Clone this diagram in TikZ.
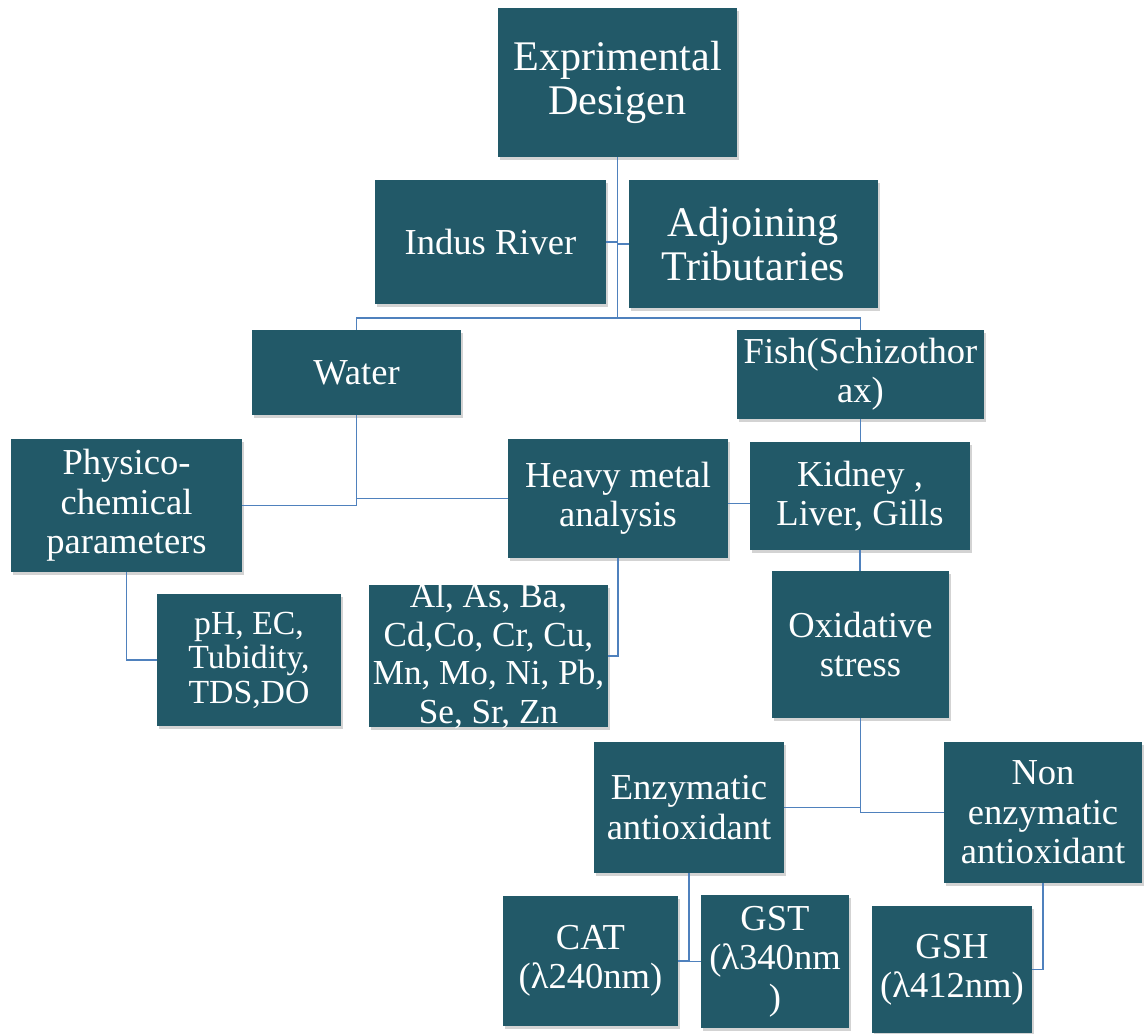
\documentclass[tikz,border=0pt]{standalone}
\usepackage{fontspec}
\setmainfont{Liberation Serif}
\usetikzlibrary{shadows,calc}
\definecolor{cajaazul}{RGB}{34,89,104}
\definecolor{lineaazul}{RGB}{79,129,189}
\newcommand\letragrande{\fontsize{30}{31.5}\selectfont}
\newcommand\letranormal{\fontsize{26}{28}\selectfont}
\begin{document}
\begin{tikzpicture}[x=0.025cm,y=-0.025cm,
  caja/.style={fill=cajaazul,text=white,align=center,inner sep=0pt,font=\letranormal,
    drop shadow={shadow xshift=1.5pt,shadow yshift=-2pt,opacity=.35}},
  tam/.style 2 args={minimum width=#1*0.025cm,minimum height=#2*0.025cm},
  conector/.style={draw=lineaazul,line width=1pt}]
\useasboundingbox (0,0) rectangle (1144,1033);
% cajas
\node[caja,tam={239}{149},font=\letragrande] (diseno) at (617.5,82.5) {Exprimental\\Desigen};
\node[caja,tam={231}{124}] (indo) at (490.5,242) {Indus River};
\node[caja,tam={249}{128},font=\letragrande] (afluentes) at (753.5,244) {Adjoining\\Tributaries};
\node[caja,tam={209}{85}] (agua) at (356.5,372.5) {Water};
\node[caja,tam={247}{89}] (pez) at (860.5,374.5) {Fish(Schizothor\\ax)};
\node[caja,tam={231}{133}] (fisico) at (126.5,505.5) {Physico-\\chemical\\parameters};
\node[caja,tam={220}{119}] (metales) at (618,498.5) {Heavy metal\\analysis};
\node[caja,tam={220}{108}] (rinon) at (860,496) {Kidney ,\\Liver, Gills};
\node[caja,tam={184}{132},font=\fontsize{24}{24.5}\selectfont] (parametros) at (249,660) {pH, EC,\\Tubidity,\\TDS,DO};
\node[caja,tam={239}{142}] (elementos) at (488.5,656) {};
\node[text=white,align=center,inner sep=0pt,font=\fontsize{25}{27.5}\selectfont] (elementostxt) at (elementos) {Al, As, Ba,\\Cd,Co, Cr, Cu,\\Mn, Mo, Ni, Pb,\\Se, Sr, Zn}; % se sale de la caja
\node[caja,tam={177}{147}] (estres) at (860.5,644.5) {Oxidative\\stress};
\node[caja,tam={190}{131}] (enzimatico) at (689,807.5) {Enzymatic\\antioxidant};
\node[caja,tam={198}{141}] (noenzimatico) at (1043,812.5) {Non\\enzymatic\\antioxidant};
\node[caja,tam={175}{130}] (cat) at (590.5,961) {CAT\\(λ240nm)};
\node[caja,tam={148}{133}] (gst) at (775,961.5) {GST\\(λ340nm\\)};
\node[caja,tam={160}{127}] (gsh) at (952,969.5) {GSH\\(λ412nm)};
% conectores
\coordinate (bus) at (617.5,318);
\draw[conector] (diseno) -- (bus);
\draw[conector] (indo.east) -- (indo.east -| diseno.south);
\draw[conector] (afluentes.west) -- (afluentes.west -| diseno.south);
\draw[conector] (agua.north) |- (bus) -| (pez.north);
\draw[conector] (agua.south) |- (metales.west);
\draw[conector] (fisico.east) -| (agua.south);
\draw[conector] ($(metales.east)+(0,5)$) -- ($(metales.east -| rinon.west)+(0,5)$);
\draw[conector] (metales.south) |- (elementos.east);
\draw[conector] (fisico.south) |- (parametros.west);
\foreach \a/\b in {pez/rinon,rinon/estres} \draw[conector] (\a.south) -- (\a.south |- \b.north);
\draw[conector] (estres.south) |- (enzimatico.east);
\draw[conector] (estres.south) |- (noenzimatico.west);
\draw[conector] (enzimatico.south) |- (cat.east);
\draw[conector] (enzimatico.south) |- (gst.west);
\draw[conector] (noenzimatico.south) |- (gsh.east);
\end{tikzpicture}
\end{document}
